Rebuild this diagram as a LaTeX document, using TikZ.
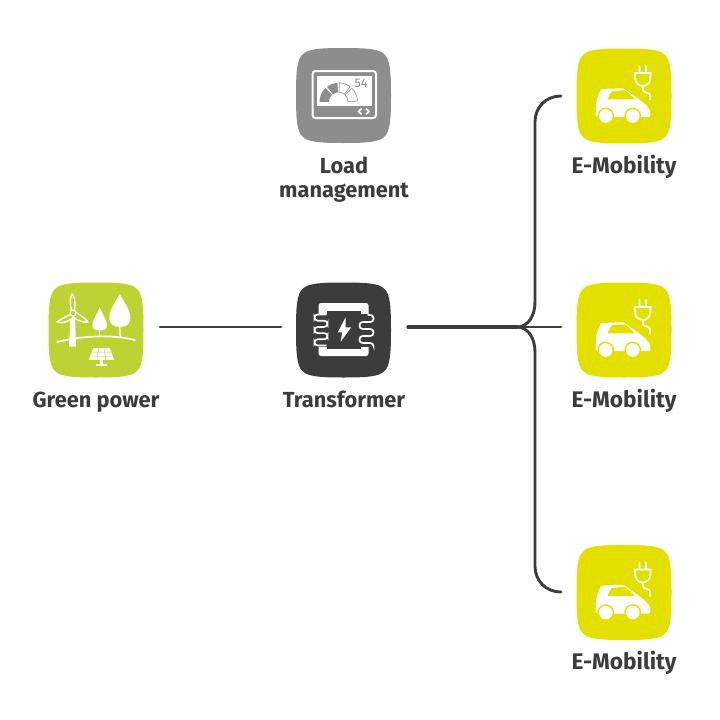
\documentclass[tikz,border=0pt]{standalone}
\usepackage{fontspec}
\setmainfont{Fira Sans}
\definecolor{iconGreen}{HTML}{BCD333}
\definecolor{iconYellow}{HTML}{E3E000}
\definecolor{iconGray}{HTML}{8D8D8D}
\definecolor{iconDark}{HTML}{3C3C3C}
\tikzset{
  labeltext/.style={anchor=base,font=\fontsize{21.8}{24}\selectfont\bfseries,text=iconDark,inner sep=0pt},
  emoblabel/.style={labeltext,font=\fontsize{22.6}{24}\selectfont\bfseries},
  wire/.style={draw=iconDark,line width=2.9pt,line cap=round},
  squircle/.pic={
    \fill[#1] (0,-47.5) .. controls (24,-47.5) and (36,-46.5) .. (41,-41)
      .. controls (46.5,-36) and (47.5,-24) .. (47.5,0)
      .. controls (47.5,24) and (46.5,36) .. (41,41)
      .. controls (36,46.5) and (24,47.5) .. (0,47.5)
      .. controls (-24,47.5) and (-36,46.5) .. (-41,41)
      .. controls (-46.5,36) and (-47.5,24) .. (-47.5,0)
      .. controls (-47.5,-24) and (-46.5,-36) .. (-41,-41)
      .. controls (-36,-46.5) and (-24,-47.5) .. (0,-47.5) -- cycle;
  },
  greenicon/.pic={
    \pic {squircle=iconGreen};
    \draw[white,line width=1.7pt,line cap=round] (-39,12) .. controls (-15,6) and (15,4) .. (39,10);
    \fill[white] (-25.5,-14) -- (-21,-14) -- (-20,16.5) -- (-27,16.5) -- cycle;
    \filldraw[draw=white,fill=iconGreen,line width=1.4pt,line join=round]
      (-23.5,-17) .. controls (-27,-26) and (-26,-33) .. (-24,-36) .. controls (-21,-33) and (-20,-26) .. (-22,-18) -- cycle;
    \filldraw[draw=white,fill=iconGreen,line width=1.4pt,line join=round]
      (-25,-16) .. controls (-32,-12) and (-37,-10) .. (-39,-8) .. controls (-33,-6) and (-27,-9) .. (-22,-13) -- cycle;
    \filldraw[draw=white,fill=iconGreen,line width=1.4pt,line join=round]
      (-21,-18) .. controls (-16,-15) and (-11,-12) .. (-8,-8) .. controls (-13,-7) and (-19,-10) .. (-23,-13) -- cycle;
    \filldraw[draw=white,fill=iconGreen,line width=1.3pt] (-23,-17) circle[radius=3pt];
    \fill[white] (3.7,-23) .. controls (6,-16) and (11,-10) .. (11,-5) .. controls (11,-1) and (8,0.5) .. (3.7,0.5)
      .. controls (-0.5,0.5) and (-3.7,-1) .. (-3.7,-5) .. controls (-3.7,-10) and (1.5,-16) .. (3.7,-23) -- cycle;
    \draw[white,line width=1.3pt] (3.7,-1) -- (3.7,6);
    \fill[white] (23.7,-36) .. controls (28,-28) and (34.3,-20) .. (34.3,-12) .. controls (34.3,-6) and (30,-3) .. (23.7,-3)
      .. controls (17.5,-3) and (13.3,-6) .. (13.3,-12) .. controls (13.3,-20) and (19.5,-28) .. (23.7,-36) -- cycle;
    \draw[white,line width=1.3pt] (23.7,-4) -- (24.2,7);
    \filldraw[draw=white,fill=white,line width=.8pt,line join=round] (-2.5,18.5) -- (13.5,18.5) -- (17.5,29.5) -- (-6.5,29.5) -- cycle;
    \draw[iconGreen,line width=.5pt]
      (-3.5,22) -- (14.8,22) (-5,26) -- (16.2,26)
      (2.5,18.5) -- (1.2,29.5) (8.2,18.5) -- (9.8,29.5);
    \fill[white] (4.3,30) rectangle (7.1,34);
    \fill[white] (0,33.6) rectangle (11,35.6);
  },
  transicon/.pic={
    \pic {squircle=iconDark};
    \fill[white,rounded corners=2.5pt] (-25,-27) rectangle (25,26);
    \fill[iconDark] (-17,-19) rectangle (17,18.5);
    \fill[iconDark] (-31,-16.5) rectangle (-16,16.5);
    \fill[iconDark] (16,-16) rectangle (32,16.5);
    \draw[white,line width=1.7pt,rounded corners=3.2pt]
      (-17,-15.5) -- (-29,-15.5) -- (-29,-9.3) -- (-16,-9.3) -- (-16,-3.1) -- (-29,-3.1) -- (-29,3.1) -- (-16,3.1) -- (-16,9.3) -- (-29,9.3) -- (-29,15.5) -- (-17,15.5);
    \draw[white,line width=1.7pt,rounded corners=3.2pt]
      (24,-15) -- (30,-15) -- (30,-8) -- (16,-8) -- (16,-1) -- (30,-1) -- (30,6) -- (16,6) -- (16,13) -- (30,13) -- (30,16);
    \fill[white] (2,-12.5) -- (-5.7,2.3) -- (-1.3,2.3) -- (-3,12) -- (7.7,-2.7) -- (2,-2.7) -- cycle;
  },
  loadicon/.pic={
    \pic {squircle=iconGray};
    \draw[white,line width=2pt,rounded corners=3pt] (-31,-24.5) rectangle (32.5,22.5);
    \fill[white] (-27,-20) rectangle (28,10.5);
    \begin{scope}[y=1pt,xshift=-5pt,yshift=-6.3pt]
      \fill[iconGray] (180:19) arc[start angle=180,end angle=133,radius=19pt] -- (133:9.5) arc[start angle=133,end angle=180,radius=9.5pt] -- cycle;
      \fill[iconGray] (127:19) arc[start angle=127,end angle=93,radius=19pt] -- (93:9.5) arc[start angle=93,end angle=127,radius=9.5pt] -- cycle;
      \draw[iconGray,line width=.6pt,fill=white] (87:19) arc[start angle=87,end angle=52,radius=19pt] -- (52:9.5) arc[start angle=52,end angle=87,radius=9.5pt] -- cycle;
      \draw[iconGray,line width=.6pt,fill=white] (45:19) arc[start angle=45,end angle=2,radius=19pt] -- (2:9.5) arc[start angle=2,end angle=45,radius=9.5pt] -- cycle;
    \end{scope}
    \node[inner sep=0pt,text=iconGray,font=\fontsize{12.5}{14}\selectfont] at (17.5,-12) {54};
    \draw[white,line width=1.6pt,line join=round] (18,13.2) -- (15,16) -- (18,18.8) (22.5,13.2) -- (25.5,16) -- (22.5,18.8);
  },
  caricon/.pic={
    \pic {squircle=iconYellow};
    \fill[white,rounded corners=1.5pt] (-28.5,21) -- (-27.5,4) -- (-23,-7) -- (-1,-7.8) -- (6,-3.2) -- (21,8) -- (26,14) -- (26.5,21) -- cycle;
    \fill[iconYellow,rounded corners=.8pt] (-12.3,-4.8) -- (1,-5.8) -- (11,3.3) -- (-16.7,3.3) -- cycle;
    \fill[iconYellow] (-18.3,20) circle[radius=8.4pt] (8.7,20) circle[radius=8.4pt];
    \fill[white] (-18.3,20) circle[radius=6.8pt] (8.7,20) circle[radius=6.8pt];
    \draw[white,line width=1.7pt,line join=round,line cap=round]
      (10.5,-23) -- (27,-23) (15.5,-30) -- (15.5,-23) (22,-30) -- (22,-23)
      (11,-23) -- (11,-19) .. controls (11,-13) and (15,-10) .. (18.7,-10) .. controls (22.5,-10) and (26.5,-13) .. (26.5,-19) -- (26.5,-23)
      (18.7,-10) -- (19,-6) .. controls (19,-3) and (26,-4) .. (26,-1) -- (26,3.5);
  }
}
\begin{document}
\begin{tikzpicture}[x=1pt,y=-1pt]
\useasboundingbox (0,0) rectangle (720,720);
\fill[white] (0,0) rectangle (720,720);

\pic (gp) at (96,330) {greenicon};
\pic (tr) at (343.5,330) {transicon};
\pic (lm) at (343.5,95.5) {loadicon};
\pic (e1) at (624,96) {caricon};
\pic (e2) at (624,330) {caricon};
\pic (e3) at (624,592.5) {caricon};

\node[labeltext] (lgp) at (96,407) {Green power};
\node[labeltext] (ltr) at (344,407) {Transformer};
\node[labeltext] (llm1) at (344,173) {Load};
\node[labeltext] (llm2) at (344,197) {management};
\node[emoblabel] (le1) at (624,173) {E-Mobility};
\node[emoblabel] (le2) at (624,407) {E-Mobility};
\node[emoblabel] (le3) at (624,669) {E-Mobility};

\coordinate (gpout) at (160,327);
\coordinate (trin) at (281,327);
\coordinate (trout) at (408,327);
\coordinate (hub) at (517,327);
\coordinate (e1in) at (561,96);
\coordinate (e2in) at (561,327);
\coordinate (e3in) at (561,592);

\draw[wire] (gpout) -- (trin);
\draw[wire,line width=3.3pt] (trout) -- (hub);
\draw[wire] (hub) -- (e2in);
\draw[wire] (hub) .. controls (528,327) and (535,316) .. (535,302) -- (535,122) .. controls (535,107) and (546,96) .. (e1in);
\draw[wire] (hub) .. controls (528,327) and (535,338) .. (535,352) -- (535,566) .. controls (535,581) and (546,592) .. (e3in);
\end{tikzpicture}
\end{document}
